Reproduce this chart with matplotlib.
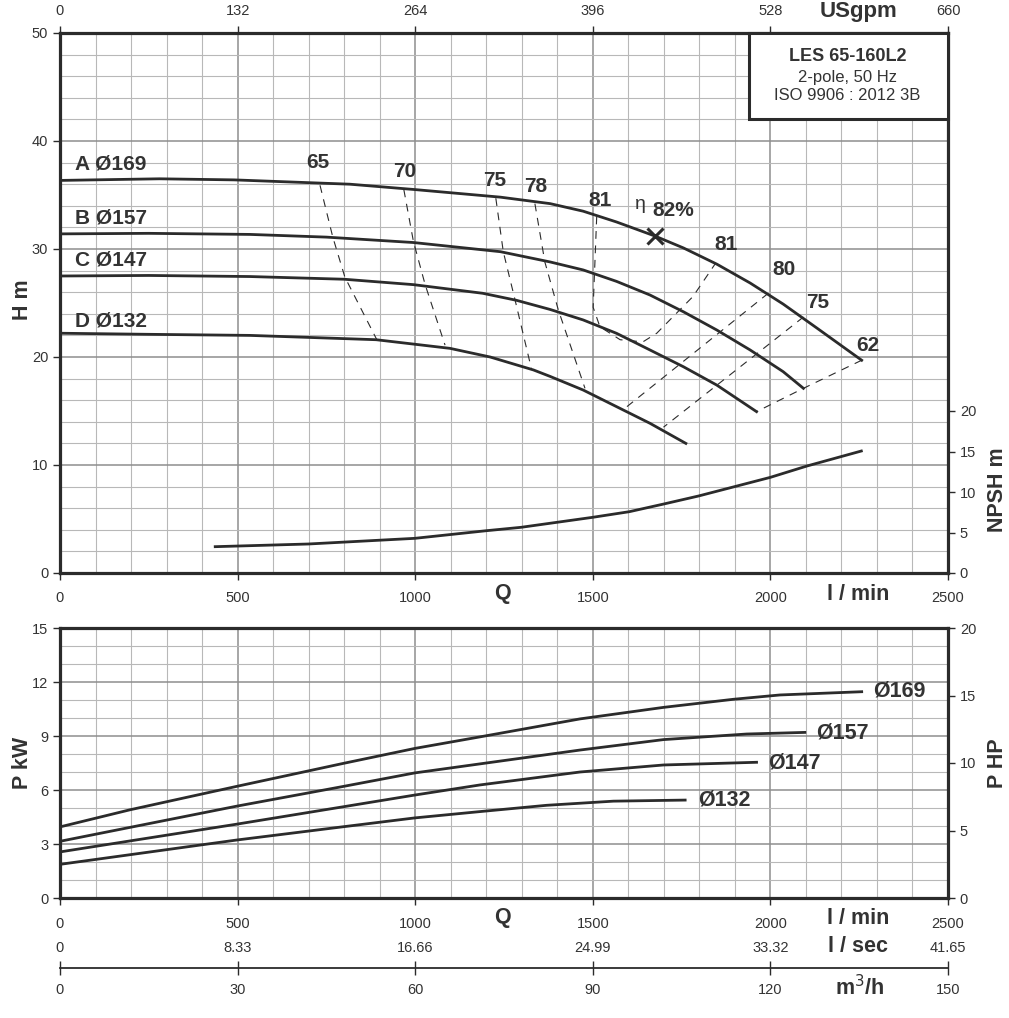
import matplotlib.pyplot as plt
from matplotlib.patches import Rectangle
from matplotlib.transforms import blended_transform_factory

plt.rcParams['font.family'] = ['Liberation Sans', 'DejaVu Sans']
NARROW = ['Liberation Sans Narrow', 'Liberation Sans', 'DejaVu Sans']

DARK = '#2b2b2b'
TXT = '#333333'
GRID_MINOR = '#b8b8b8'
GRID_MAJOR = '#8e8e8e'

# ---- data (Q in l/min) ----
q_ticks = [0, 500, 1000, 1500, 2000, 2500]
usgpm_labels = ['0', '132', '264', '396', '528', '660']
lsec_labels = ['0', '8.33', '16.66', '24.99', '33.32', '41.65']
m3h_labels = ['0', '30', '60', '90', '120', '150']

# H-Q curves
qA = [0, 280, 490, 816, 1000, 1240, 1380, 1473, 1567, 1675, 1755, 1849,
      1943, 2036, 2130, 2257]
hA = [36.35, 36.5, 36.4, 36.0, 35.5, 34.8, 34.2, 33.5, 32.5, 31.2, 30.1,
      28.6, 26.85, 24.9, 22.7, 19.7]
qB = [0, 250, 535, 750, 995, 1240, 1380, 1473, 1567, 1661, 1755, 1849,
      1943, 2036, 2093]
hB = [31.4, 31.45, 31.35, 31.1, 30.6, 29.75, 28.8, 28.06, 27.0, 25.74,
      24.19, 22.5, 20.65, 18.64, 17.1]
qC = [0, 250, 535, 800, 995, 1190, 1285, 1380, 1473, 1567, 1661, 1755,
      1849, 1961]
hC = [27.5, 27.55, 27.45, 27.2, 26.7, 25.9, 25.25, 24.4, 23.43, 22.19,
      20.65, 19.1, 17.4, 14.94]
qD = [0, 250, 535, 890, 1098, 1211, 1333, 1380, 1473, 1567, 1661, 1762]
hD = [22.2, 22.1, 22.0, 21.6, 20.8, 20.0, 18.8, 18.2, 16.94, 15.4, 13.86,
      12.0]
curve_names = ['A Ø169', 'B Ø157', 'C Ø147', 'D Ø132']
curve_label_h = [37.9, 32.9, 29.0, 23.3]

# efficiency iso-lines
eff65_q = [732, 768, 802, 892]
eff65_h = [35.9, 31.1, 27.4, 21.6]
eff70_q = [968, 995, 1028, 1084]
eff70_h = [35.5, 30.7, 26.7, 21.1]
eff75a_q = [1227, 1248, 1281, 1328]
eff75a_h = [34.7, 29.75, 25.3, 18.8]
eff78_q = [1337, 1365, 1403, 1478]
eff78_h = [34.2, 28.8, 24.35, 17.1]
eff81_q = [1511, 1501, 1520, 1577, 1641, 1680, 1782, 1844]
eff81_h = [33.0, 24.6, 22.8, 21.6, 21.4, 22.2, 25.6, 28.6]
eff80_q = [1994, 1596]
eff80_h = [25.9, 15.4]
eff75b_q = [2093, 1699]
eff75b_h = [23.7, 13.5]
eff62_q = [2257, 2093, 1961]
eff62_h = [19.7, 17.1, 14.94]
eff_text = ['65', '70', '75', '78', '81', '81', '80', '75', '62']
eff_text_q = [726, 971, 1225, 1340, 1520, 1875, 2038, 2134, 2275]
eff_text_h = [38.0, 37.2, 36.3, 35.8, 34.5, 30.4, 28.1, 25.0, 21.1]
best_q, best_h = 1675, 31.2

# NPSH
q_npsh = [437, 699, 999, 1200, 1298, 1499, 1603, 1700, 1798, 2000, 2103,
          2256]
npsh = [3.25, 3.58, 4.28, 5.22, 5.64, 6.87, 7.57, 8.52, 9.51, 11.81, 13.21,
        15.06]

# power curves (kW)
qP169 = [0, 197, 497, 798, 999, 1182, 1464, 1699, 1896, 2027, 2257]
p169 = [3.95, 4.9, 6.2, 7.48, 8.31, 8.95, 9.95, 10.59, 11.04, 11.28, 11.46]
qP157 = [0, 497, 798, 999, 1182, 1464, 1699, 1933, 2097]
p157 = [3.15, 5.1, 6.2, 6.95, 7.45, 8.22, 8.8, 9.11, 9.2]
qP147 = [0, 497, 798, 999, 1182, 1464, 1699, 1961]
p147 = [2.56, 4.1, 5.07, 5.72, 6.28, 7.0, 7.39, 7.54]
qP132 = [0, 497, 798, 999, 1182, 1370, 1558, 1760]
p132 = [1.87, 3.22, 3.96, 4.45, 4.8, 5.15, 5.38, 5.44]
power_names = ['Ø169', 'Ø157', 'Ø147', 'Ø132']
power_label_q = [2289, 2128, 1993, 1796]
power_label_p = [11.5, 9.17, 7.5, 5.44]

W, H = 1009, 1018
fig = plt.figure(figsize=(W / 100, H / 100), dpi=100)


def fy(px):
    return 1 - px / H


def style_grid(ax, ymax, ystep_minor, ystep_major):
    for q in range(0, 2501, 100):
        major = q % 500 == 0
        ax.axvline(q, color=GRID_MAJOR if major else GRID_MINOR,
                   lw=1.1 if major else 0.8, zorder=0)
    y = 0
    while y <= ymax + 1e-9:
        major = abs(y / ystep_major - round(y / ystep_major)) < 1e-6
        ax.axhline(y, color=GRID_MAJOR if major else GRID_MINOR,
                   lw=1.1 if major else 0.8, zorder=0)
        y += ystep_minor
    for s in ax.spines.values():
        s.set_linewidth(2.3)
        s.set_color(DARK)
        s.set_zorder(5)
    ax.tick_params(direction='out', length=5, width=1, color=DARK,
                   labelcolor=TXT, labelsize=10.5)


# ---------------- H-Q chart ----------------
ax = fig.add_axes([60 / W, fy(573), 888 / W, 540 / H])
ax.set_xlim(0, 2500)
ax.set_ylim(0, 50)
style_grid(ax, 50, 2, 10)
ax.set_xticks(q_ticks)
ax.set_yticks([0, 10, 20, 30, 40, 50])
ax.tick_params(axis='x', pad=8)

for q, h in [(qA, hA), (qB, hB), (qC, hC), (qD, hD)]:
    ax.plot(q, h, color=DARK, lw=2.0, zorder=3, solid_joinstyle='round')
for name, yh in zip(curve_names, curve_label_h):
    ax.text(42, yh, name, fontsize=15, fontweight='bold', color=TXT,
            va='center', ha='left', zorder=4)

for q, h in [(eff65_q, eff65_h), (eff70_q, eff70_h), (eff75a_q, eff75a_h),
             (eff78_q, eff78_h), (eff81_q, eff81_h), (eff80_q, eff80_h),
             (eff75b_q, eff75b_h), (eff62_q, eff62_h)]:
    ax.plot(q, h, color=DARK, lw=0.8, dashes=(7, 6), zorder=2)
for t, q, h in zip(eff_text, eff_text_q, eff_text_h):
    ax.text(q, h, t, fontsize=15, fontweight='bold', color=TXT,
            ha='center', va='center', zorder=4)
ax.plot([best_q], [best_h], marker='x', ms=11, mew=2.2, color=DARK, zorder=4)
ax.text(1633, 34.1, 'η', fontsize=14, color=TXT, ha='center', va='center')
ax.text(1667, 33.6, '82%', fontsize=15, fontweight='bold', color=TXT,
        ha='left', va='center')

# info box
ax.add_patch(Rectangle((0.776, 0.841), 0.224, 0.159, transform=ax.transAxes,
                       facecolor='white', edgecolor=DARK, lw=2.2, zorder=6,
                       clip_on=False))
ax.text(0.887, 0.957, 'LES 65-160L2', transform=ax.transAxes, fontsize=13,
        fontweight='bold', color=TXT, ha='center', va='center', zorder=7)
ax.text(0.887, 0.918, '2-pole, 50 Hz', transform=ax.transAxes, fontsize=12,
        color=TXT, ha='center', va='center', zorder=7)
ax.text(0.887, 0.884, 'ISO 9906 : 2012 3B', transform=ax.transAxes,
        fontsize=12, color=TXT, ha='center', va='center', zorder=7)

# NPSH axis
ax_n = ax.twinx()
ax_n.set_ylim(0, 50 * 4 / 3)
ax_n.set_yticks([0, 5, 10, 15, 20])
ax_n.tick_params(direction='out', length=5, width=1, color=DARK,
                 labelcolor=TXT, labelsize=10.5)
for s in ax_n.spines.values():
    s.set_visible(False)
ax_n.plot(q_npsh, npsh, color=DARK, lw=2.0, zorder=3, solid_joinstyle='round')

# USgpm axis
ax_t = ax.twiny()
ax_t.set_xlim(0, 2500)
ax_t.set_xticks(q_ticks)
ax_t.set_xticklabels(usgpm_labels)
ax_t.tick_params(direction='out', length=5, width=1, color=DARK,
                 labelcolor=TXT, labelsize=10.5, pad=6)
for s in ax_t.spines.values():
    s.set_visible(False)

bt = blended_transform_factory(ax.transData, fig.transFigure)
fig.text(0.012, fy(300), 'H m', rotation=90, fontsize=15.5, fontweight='bold',
         color=TXT, ha='left', va='center')
fig.text(0.999, fy(490), 'NPSH m', rotation=90, fontsize=15.5,
         fontweight='bold', color=TXT, ha='right', va='center')
fig.text(1247, fy(593), 'Q', transform=bt, fontsize=15.5, fontweight='bold',
         color=TXT, ha='center', va='center')
fig.text(2247, fy(594), 'l / min', transform=bt, fontsize=15.5,
         fontweight='bold', color=TXT, ha='center', va='center')
fig.text(2247, fy(12), 'USgpm', transform=bt, fontsize=16, fontweight='bold',
         color=TXT, ha='center', va='center')

# ---------------- power chart ----------------
axp = fig.add_axes([60 / W, fy(898), 888 / W, 270 / H])
axp.set_xlim(0, 2500)
axp.set_ylim(0, 15)
style_grid(axp, 15, 1, 3)
axp.set_xticks(q_ticks)
axp.set_yticks([0, 3, 6, 9, 12, 15])
axp.tick_params(axis='x', pad=9)
for lab in axp.get_xticklabels():
    lab.set_family(NARROW)

for q, p in [(qP169, p169), (qP157, p157), (qP147, p147), (qP132, p132)]:
    axp.plot(q, p, color=DARK, lw=2.0, zorder=3, solid_joinstyle='round')
for name, q, p in zip(power_names, power_label_q, power_label_p):
    axp.text(q, p, name, fontsize=15.5, fontweight='bold', color=TXT,
             ha='left', va='center', zorder=4)

axh = axp.twinx()
axh.set_ylim(0, 20)
axh.set_yticks([0, 5, 10, 15, 20])
axh.tick_params(direction='out', length=5, width=1, color=DARK,
                labelcolor=TXT, labelsize=10.5)
for s in axh.spines.values():
    s.set_visible(False)

# l/sec row
ax_ls = axp.secondary_xaxis(-0.107)
ax_ls.set_xticks(q_ticks)
ax_ls.set_xticklabels(lsec_labels)
ax_ls.spines['bottom'].set_visible(False)
ax_ls.tick_params(length=0, labelcolor=TXT, labelsize=10.5, pad=10)
for lab in ax_ls.get_xticklabels():
    lab.set_family(NARROW)

# m3/h row
ax_m = axp.secondary_xaxis(-0.259)
ax_m.set_xticks(q_ticks)
ax_m.set_xticklabels(m3h_labels)
ax_m.spines['bottom'].set_color(DARK)
ax_m.spines['bottom'].set_linewidth(1.3)
ax_m.tick_params(direction='inout', length=10, width=1, color=DARK,
                 labelcolor=TXT, labelsize=10.5, pad=6)
for lab in ax_m.get_xticklabels():
    lab.set_family(NARROW)

fig.text(0.012, fy(763), 'P kW', rotation=90, fontsize=15.5, fontweight='bold',
         color=TXT, ha='left', va='center')
fig.text(0.999, fy(763), 'P HP', rotation=90, fontsize=15.5, fontweight='bold',
         color=TXT, ha='right', va='center')
fig.text(1247, fy(918), 'Q', transform=bt, fontsize=15.5, fontweight='bold',
         color=TXT, ha='center', va='center')
fig.text(2247, fy(918), 'l / min', transform=bt, fontsize=15.5,
         fontweight='bold', color=TXT, ha='center', va='center')
fig.text(2247, fy(947), 'l / sec', transform=bt, fontsize=15.5,
         fontweight='bold', color=TXT, ha='center', va='center')
fig.text(2252, fy(988), 'm$^3$/h', transform=bt, fontsize=15.5,
         fontweight='bold', color=TXT, ha='center', va='center')

fig.savefig('out.png', dpi=100, facecolor='white')
